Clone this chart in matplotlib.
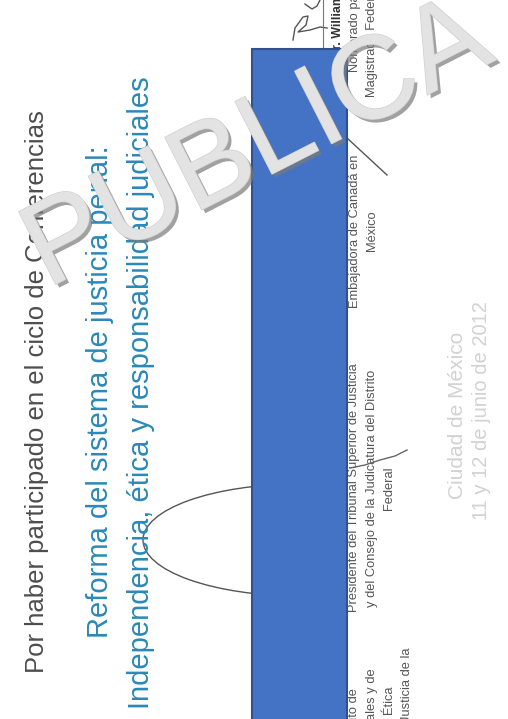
import matplotlib
matplotlib.use("Agg")
import matplotlib.pyplot as plt
import matplotlib.patheffects as pe
from matplotlib.patches import Rectangle, Arc

plt.rcParams['font.family'] = ['Liberation Sans', 'DejaVu Sans']

# texto del reconocimiento (rotado 90 grados)
intro = "Por haber participado en el ciclo de Conferencias"
title_lines = ["Reforma del sistema de justicia penal:",
               "Independencia, ética y responsabilidad judiciales"]
firma_presidente = ["Presidente del Tribunal Superior de Justicia",
                    "y del Consejo de la Judicatura del Distrito",
                    "Federal"]
firma_embajadora = ["Embajadora de Canadá en", "México"]
firma_izq = ["uto de", "ales y de", "Ética", "Justicia de la"]
firma_arriba = ["Dr. William", "Nombrado para", "Magistrada Federal"]
lugar = ["Ciudad de México", "11 y 12 de junio de 2012"]
marca = "PUBLICA"

# trazos de firmas (x, y en pixeles de la hoja)
trazo_presidente = ([350, 365, 380, 395, 407], [468, 465, 460, 456, 450])
trazo_embajadora = ([347, 387], [138, 175])
trazo_arriba = ([293, 295, 303, 308, 306, 298, 310, 320, 327],
                [40, 28, 17, 16, 25, 32, 30, 27, 28])
trazo_arriba2 = ([305, 312, 317, 320], [4, 9, 6, 0])

W, H = 508, 719
fig = plt.figure(figsize=(W / 100, H / 100), dpi=100)
ax = fig.add_axes([0, 0, 1, 1])
ax.set_xlim(0, W)
ax.set_ylim(H, 0)
ax.axis('off')

def vtext(x, y, s, size, color, ha='center', weight='normal', z=2):
    ax.text(x, y, s, rotation=90, rotation_mode='anchor', ha=ha,
            va='baseline', fontsize=size, color=color, fontweight=weight,
            zorder=z)

vtext(44, 392, intro, 18.5, '#4d4d4d')
vtext(108, 392, title_lines[0], 21, '#2a88b8')
vtext(149, 393, title_lines[1], 21, '#2a88b8')

for i, s in enumerate(firma_presidente):
    vtext(357 + i * 17.5, 488, s, 9.3, '#555555')
for i, s in enumerate(firma_embajadora):
    vtext(358 + i * 17.5, 231, s, 9.3, '#555555')
for i, (s, y_end) in enumerate(zip(firma_izq, [688, 668, 685, 647])):
    vtext(357 + i * 17.5, y_end, s, 9.3, '#555555', ha='right')

vtext(341, 58, firma_arriba[0], 9, '#333333', ha='left', weight='bold')
vtext(358, 72, firma_arriba[1], 9.3, '#555555', ha='left')
vtext(375, 97, firma_arriba[2], 9.3, '#555555', ha='left')

vtext(463, 415, lugar[0], 15, '#d2d2d2')
vtext(487, 411, lugar[1], 14.5, '#d2d2d2')

# firmas
ax.add_patch(Arc((300, 540), 314, 112, theta1=90, theta2=270,
                 color='#555555', lw=1.0, zorder=1))
ax.plot(*trazo_presidente, color='#666666', lw=1.0, zorder=3)
ax.plot(*trazo_embajadora, color='#555555', lw=1.0, zorder=3)
ax.plot(*trazo_arriba, color='#555555', lw=1.0, zorder=3)
ax.plot(*trazo_arriba2, color='#555555', lw=1.0, zorder=3)
ax.plot([323, 323], [0, 49], color='#777777', lw=0.8, zorder=3)

# recuadro azul
ax.add_patch(Rectangle((252, 49), 95, 700, facecolor='#4472C4',
                       edgecolor='#2F528F', lw=1.5, zorder=5))

# marca de agua
ax.text(272, 174, marca, rotation=27, rotation_mode='anchor', ha='center',
        va='baseline', fontsize=85, color='#e3e3e3', zorder=6,
        path_effects=[pe.SimplePatchShadow(offset=(2.5, -2.5),
                                           shadow_rgbFace='#7a7a7a', alpha=0.7),
                      pe.Stroke(linewidth=1, foreground='#d0d0d0'),
                      pe.Normal()])

fig.savefig("out.png", dpi=100, facecolor='white')
